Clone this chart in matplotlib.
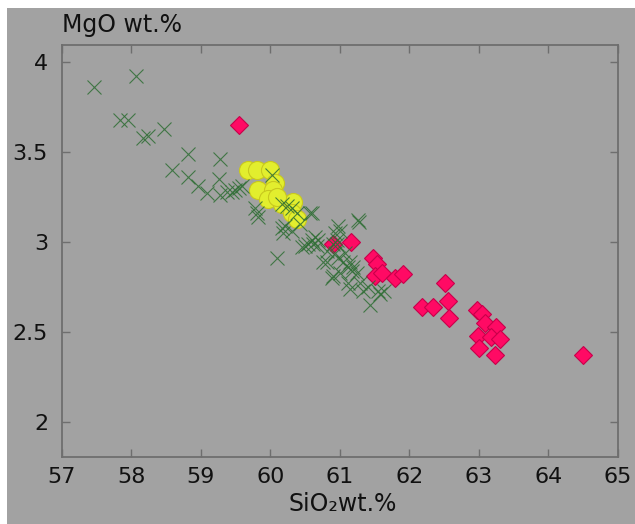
import numpy as np
import matplotlib.pyplot as plt
from matplotlib.patches import Rectangle

# green crosses
x_cross = [57.46, 58.07, 57.83, 57.95, 58.17, 58.24, 58.47, 58.82, 59.27, 58.58,
           58.82, 58.96, 59.09, 59.26, 59.27, 59.38, 59.44, 59.49, 59.54, 59.59,
           59.78, 59.80, 59.82, 60.02, 60.16, 60.24, 60.31, 60.38, 60.57, 60.21,
           60.18, 60.31, 60.43, 60.60, 60.64, 60.68, 60.54, 60.97, 61.00, 61.26,
           60.09, 60.96, 60.81, 60.93, 61.07, 61.15, 61.19, 61.00, 60.89, 61.12,
           61.29, 60.60, 61.27, 60.93, 60.96, 60.90, 60.61, 60.67, 60.50, 60.45,
           60.75, 60.82, 60.97, 61.05, 61.12, 61.17, 61.24, 60.90, 61.15, 61.33,
           61.40, 61.57, 61.54, 61.43, 60.16, 61.64]
y_cross = [3.86, 3.92, 3.68, 3.68, 3.58, 3.59, 3.63, 3.49, 3.46, 3.40,
           3.36, 3.31, 3.27, 3.35, 3.26, 3.28, 3.28, 3.29, 3.30, 3.31,
           3.19, 3.16, 3.14, 3.37, 3.21, 3.20, 3.19, 3.16, 3.16, 3.09,
           3.05, 3.06, 3.10, 3.01, 3.03, 3.01, 2.99, 3.09, 3.06, 3.12,
           2.91, 2.99, 2.95, 2.94, 2.94, 2.89, 2.86, 2.83, 2.80, 2.77,
           2.77, 3.16, 3.11, 3.05, 3.01, 2.99, 2.99, 2.98, 2.98, 2.97,
           2.89, 2.89, 2.91, 2.89, 2.86, 2.84, 2.83, 2.81, 2.74, 2.73,
           2.75, 2.71, 2.73, 2.65, 3.08, 2.73]

# yellow circles
x_circ = [59.68, 59.81, 59.99, 60.06, 59.82, 60.03, 59.96, 60.16, 60.33, 60.31, 60.38, 60.10]
y_circ = [3.40, 3.40, 3.40, 3.33, 3.29, 3.29, 3.24, 3.21, 3.22, 3.16, 3.13, 3.25]

# pink diamonds
x_diam = [59.55, 60.90, 61.16, 61.47, 61.53, 61.50, 61.61, 61.79, 61.91, 62.51,
          62.18, 62.34, 62.56, 62.57, 62.97, 63.05, 63.08, 63.25, 62.98, 63.18,
          63.30, 63.00, 63.23, 64.50]
y_diam = [3.65, 2.99, 3.00, 2.91, 2.88, 2.81, 2.83, 2.80, 2.82, 2.77,
          2.64, 2.64, 2.67, 2.58, 2.62, 2.60, 2.55, 2.53, 2.48, 2.47,
          2.46, 2.41, 2.37, 2.37]

bg = '#a2a2a2'
fig = plt.figure(figsize=(6.35, 5.24), dpi=100, facecolor='white')
# white strip on the left and top edge like the original screenshot
fig.patches.append(Rectangle((7 / 635, 0), 1, 1 - 8 / 524, transform=fig.transFigure,
                             facecolor=bg, edgecolor='none', zorder=-10))
ax = fig.add_axes([0.0976, 0.1279, 0.8756, 0.7862], facecolor=bg)

ax.plot(x_circ, y_circ, 'o', ms=13, color='#e2ee2e', mec='#c8c81e', mew=0.8, zorder=2)
ax.plot(x_diam, y_diam, 'D', ms=9, color='#ff0a64', mec='#c8004a', mew=0.8, zorder=3)
ax.plot(x_cross, y_cross, 'x', ms=10, color='#2f6e35', mew=0.8, alpha=0.85, zorder=4)

ax.set_xlim(57, 65)
ax.set_ylim(1.806, 4.094)
ax.set_xticks(np.arange(57, 66, 1))
ax.set_yticks([2, 2.5, 3, 3.5, 4])
ax.set_yticklabels(['2', '2.5', '3', '3.5', '4'])

for s in ax.spines.values():
    s.set_color('#6e6e6e')
    s.set_linewidth(1.3)
ax.tick_params(direction='in', length=6, width=1, color='#6e6e6e',
               top=True, right=True, labelsize=16, labelcolor='#111111')
ax.tick_params(axis='y', pad=10)
ax.tick_params(axis='x', pad=7)

fig.text(0.098, 0.952, 'MgO wt.%', fontsize=17, color='#111111', ha='left', va='center')
fig.text(0.54, 0.038, 'SiO\u2082wt.%', fontsize=17, color='#111111',
         ha='center', va='center')

fig.savefig('out.png', dpi=100, facecolor='white')
